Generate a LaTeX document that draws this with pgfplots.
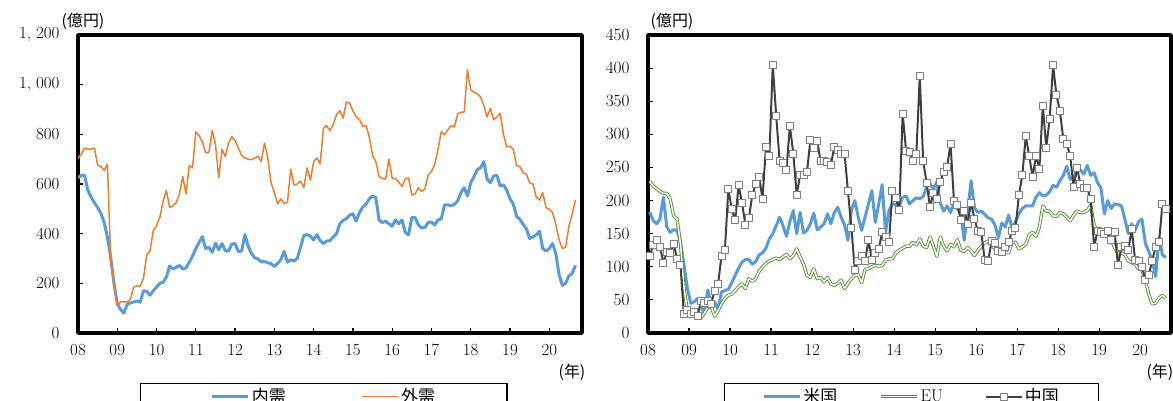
\documentclass[border=0pt]{standalone}
\usepackage{fontspec}
\newfontfamily\cjk{Noto Sans CJK JP}
\usepackage{pgfplots}
\pgfplotsset{compat=1.18}
\definecolor{cblue}{HTML}{5B9BD5}
\definecolor{corange}{HTML}{ED7D31}
\definecolor{cgreen}{HTML}{4E8F2E}
\definecolor{cdark}{HTML}{404040}
\definecolor{cmark}{HTML}{7F7F7F}
\pgfplotsset{
 mystyle/.style={
  scale only axis, height=298bp, anchor=south west,
  axis line style={line width=3.5bp},
  tick align=inside, xtick pos=bottom, ytick pos=left,
  major tick length=5bp, tick style={line width=1.2bp, black},
  tick label style={font=\fontsize{17}{20}\selectfont},
  xticklabel style={yshift=-8bp},
  yticklabel style={xshift=-15bp},
  xtick={0,12,...,144},
  xticklabels={08,09,10,11,12,13,14,15,16,17,18,19,20},
  legend image code/.code={\draw[mark repeat=2,mark phase=2,##1] plot coordinates {(0bp,0bp) (18bp,0bp) (36bp,0bp)};},
  legend style={draw=black, line width=1.2bp, anchor=north, inner ysep=3bp,
    font=\fontsize{17}{20}\selectfont, nodes={inner sep=2bp}},
  line join=round,
 }
}
\begin{document}
\begin{tikzpicture}
\useasboundingbox (0,0) rectangle (1173bp,401bp);
\clip (0,0) rectangle (1173bp,401bp);
% ---------------- left panel ----------------
\begin{axis}[mystyle, at={(78bp,68bp)}, width=504bp,
  xmin=0, xmax=154, ymin=0, ymax=1200,
  ytick={0,200,...,1200},
  yticklabels={0,200,400,600,800,{1, 000},{1, 200}},
  legend columns=2,
  legend style={at={(0.488,-0.168)}, inner xsep=70bp,
    /tikz/every even column/.append style={column sep=74bp}},
]
\addplot[cblue, line width=3bp] table[header=false, x expr=\coordindex, y index=0, row sep=\\] {
625\\635\\636\\575\\548\\525\\505\\482\\445\\385\\305\\199\\119\\95\\80\\115\\121\\125\\129\\124\\
170\\168\\152\\170\\185\\200\\205\\225\\270\\258\\265\\272\\258\\262\\285\\310\\340\\365\\388\\340\\
345\\325\\362\\335\\360\\332\\330\\358\\360\\328\\330\\396\\350\\320\\303\\298\\286\\288\\283\\279\\
268\\280\\295\\329\\285\\295\\290\\300\\345\\393\\396\\390\\375\\396\\372\\360\\370\\372\\387\\400\\
440\\454\\460\\475\\480\\450\\485\\507\\518\\540\\552\\545\\455\\445\\450\\440\\430\\455\\440\\455\\
405\\395\\465\\465\\435\\423\\425\\445\\447\\435\\455\\460\\516\\516\\513\\518\\532\\565\\585\\552\\
605\\630\\658\\665\\690\\620\\605\\632\\635\\592\\597\\575\\540\\520\\470\\458\\438\\420\\380\\387\\
395\\410\\340\\330\\340\\360\\320\\235\\192\\200\\230\\240\\272\\
};
\addlegendentry{\cjk 内需}
\addplot[corange, line width=1.5bp] table[header=false, x expr=\coordindex, y index=0, row sep=\\] {
703\\720\\745\\740\\740\\745\\676\\670\\655\\680\\290\\200\\110\\125\\125\\125\\135\\185\\190\\188\\
220\\315\\330\\412\\432\\465\\530\\575\\505\\512\\525\\560\\630\\560\\675\\665\\810\\795\\770\\725\\
728\\815\\760\\625\\740\\710\\765\\790\\775\\745\\715\\705\\700\\698\\705\\712\\690\\765\\705\\605\\
565\\520\\540\\522\\525\\660\\596\\600\\612\\585\\665\\615\\690\\705\\681\\825\\835\\815\\840\\880\\
895\\865\\930\\925\\895\\870\\860\\832\\836\\790\\716\\690\\630\\622\\620\\700\\623\\622\\608\\590\\
620\\625\\556\\560\\585\\570\\580\\636\\650\\680\\740\\810\\798\\818\\835\\830\\882\\889\\890\\1060\\
978\\970\\963\\950\\915\\870\\905\\858\\870\\885\\800\\750\\752\\740\\675\\670\\645\\640\\605\\600\\
548\\535\\565\\505\\498\\485\\437\\375\\340\\345\\430\\480\\535\\
};
\addlegendentry{\cjk 外需}
\end{axis}
% ---------------- right panel ----------------
\begin{axis}[mystyle, at={(648bp,68bp)}, width=523bp,
  xmin=0, xmax=153, ymin=0, ymax=450,
  ytick={0,50,...,450},
  legend columns=3,
  legend style={at={(0.504,-0.168)}, inner xsep=38bp,
    /tikz/every even column/.append style={column sep=40bp}},
]
\addplot[cblue, line width=3bp] table[header=false, x expr=\coordindex+0.5, y index=0, row sep=\\] {
183\\170\\165\\172\\205\\160\\152\\156\\155\\137\\104\\68\\45\\47\\52\\40\\30\\65\\44\\47\\
36\\62\\64\\66\\76\\87\\98\\107\\111\\111\\104\\108\\118\\121\\128\\142\\150\\162\\175\\162\\
146\\168\\185\\150\\182\\151\\155\\165\\181\\156\\160\\165\\180\\165\\182\\190\\175\\163\\140\\185\\
200\\175\\155\\175\\195\\215\\167\\195\\224\\152\\185\\195\\194\\192\\205\\207\\195\\200\\204\\203\\
206\\220\\226\\218\\228\\196\\184\\192\\182\\197\\187\\182\\140\\182\\230\\189\\182\\184\\179\\174\\
172\\163\\144\\166\\160\\178\\158\\168\\180\\188\\192\\192\\192\\205\\212\\207\\208\\213\\223\\220\\
230\\238\\252\\232\\235\\247\\246\\240\\253\\238\\242\\227\\219\\180\\200\\188\\195\\194\\192\\172\\
150\\165\\155\\168\\172\\135\\123\\110\\85\\145\\118\\114\\
};
\addlegendentry{\cjk 米国}
\addplot[draw=cgreen, double=white, double distance=1.5bp, line width=0.9bp] table[header=false, x expr=\coordindex+0.5, y index=0, row sep=\\] {
229\\222\\218\\214\\211\\211\\202\\177\\172\\135\\69\\34\\32\\33\\28\\23\\30\\39\\40\\25\\
34\\44\\52\\57\\59\\64\\70\\74\\67\\82\\78\\82\\93\\100\\105\\109\\111\\113\\111\\115\\
119\\112\\117\\127\\115\\104\\87\\84\\97\\82\\84\\77\\84\\74\\72\\75\\80\\67\\75\\82\\
87\\88\\76\\96\\97\\100\\102\\101\\102\\110\\112\\112\\121\\125\\128\\131\\131\\137\\133\\142\\
131\\129\\145\\131\\116\\145\\131\\124\\134\\130\\141\\125\\123\\129\\124\\117\\125\\131\\136\\139\\
133\\127\\121\\119\\122\\121\\137\\137\\127\\130\\134\\148\\152\\146\\160\\192\\184\\184\\177\\176\\
182\\180\\175\\169\\178\\184\\182\\182\\185\\193\\163\\154\\152\\150\\146\\141\\129\\120\\121\\118\\
109\\106\\104\\97\\95\\80\\58\\44\\45\\53\\57\\52\\
};
\addlegendentry{EU}
\addplot[cdark, line width=2bp, mark=square*, mark size=3.5bp,
  mark options={fill=white, draw=cmark, line width=1bp}] table[header=false, x expr=\coordindex+0.5, y index=0, row sep=\\] {
116\\133\\141\\130\\106\\122\\121\\135\\112\\102\\28\\35\\29\\32\\25\\48\\45\\48\\44\\64\\
74\\116\\125\\218\\187\\170\\223\\197\\163\\173\\208\\225\\235\\203\\281\\268\\405\\328\\260\\256\\
246\\313\\271\\209\\238\\238\\243\\291\\279\\290\\259\\259\\258\\254\\281\\276\\271\\271\\214\\159\\
95\\109\\116\\109\\140\\110\\121\\127\\152\\145\\137\\214\\204\\186\\331\\275\\274\\259\\270\\388\\
259\\227\\190\\212\\202\\228\\243\\250\\286\\200\\194\\171\\184\\165\\197\\172\\154\\152\\110\\108\\
139\\136\\124\\122\\130\\137\\154\\158\\208\\238\\297\\268\\236\\267\\248\\343\\280\\323\\404\\359\\
335\\293\\285\\268\\220\\249\\225\\219\\219\\202\\130\\154\\153\\150\\154\\140\\153\\102\\130\\132\\
125\\157\\110\\109\\100\\80\\88\\109\\130\\137\\195\\187\\
};
\addlegendentry{\cjk 中国}
\end{axis}
% ---------------- unit labels ----------------
\node[font=\cjk\fontsize{16}{18}\selectfont] at (83bp,380bp) {(億円)};
\node[font=\cjk\fontsize{16}{18}\selectfont] at (672bp,380bp) {(億円)};
\node[font=\cjk\fontsize{16}{18}\selectfont] at (572bp,29bp) {(年)};
\node[font=\cjk\fontsize{16}{18}\selectfont, anchor=west] at (1143bp,29bp) {(年)};
\end{tikzpicture}
\end{document}
